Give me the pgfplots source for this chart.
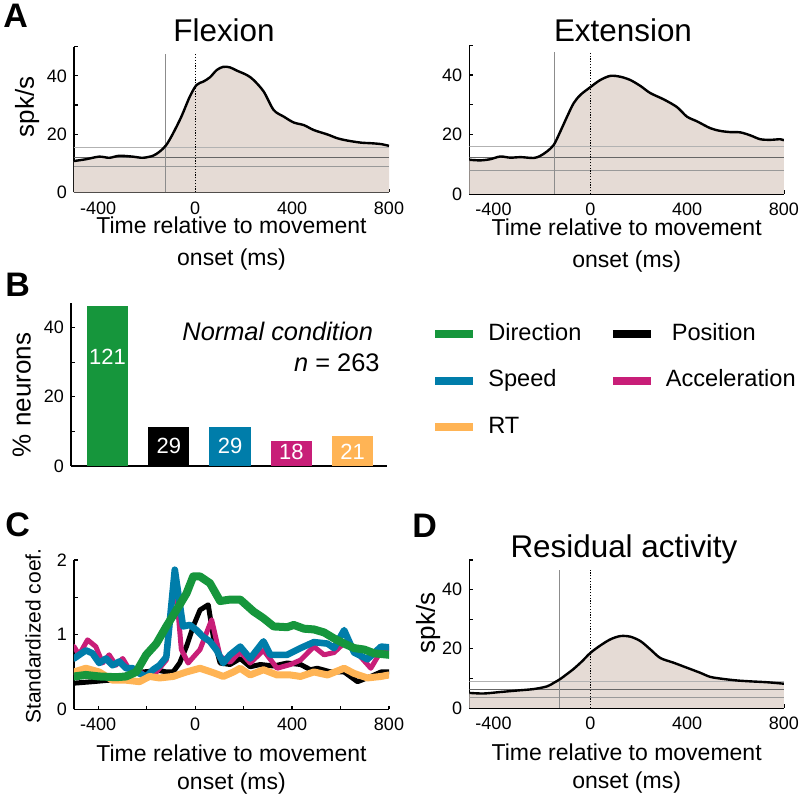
\documentclass[border=0pt]{standalone}
\usepackage{fontspec}
\setmainfont{Liberation Sans}
\usepackage{pgfplots}
\pgfplotsset{compat=1.18}
\usepackage{pgfplotstable}

\definecolor{dgreen}{RGB}{22,150,60}
\definecolor{dblue}{RGB}{0,125,170}
\definecolor{dmag}{RGB}{200,30,120}
\definecolor{dorange}{RGB}{255,180,85}
\definecolor{beige}{RGB}{229,219,213}

% firing rates (spk/s) vs time (ms)
\pgfplotstableread{
t r
-500 10.8
-451 11.4
-396 12.3
-354 11.9
-313 12.6
-257 12.3
-216 11.9
-174 12.6
-147 14.0
-119 16.3
-91 20.3
-57 26.0
-22 32.9
6 36.9
33 38.0
61 39.5
89 42.0
116 43.1
144 42.9
172 41.8
213 40.3
241 38.6
283 34.6
324 28.3
366 26.0
407 24.0
449 23.1
490 21.4
546 19.9
587 18.6
629 17.8
684 17.1
726 16.9
767 16.6
800 16.0
}\flexdata

\pgfplotstableread{
t r
-500 11.5
-454 11.3
-413 11.7
-372 12.6
-330 12.2
-289 12.4
-234 12.1
-207 12.8
-179 14.3
-151 16.5
-124 21.0
-96 26.0
-69 30.5
-41 33.3
0 35.9
41 38.3
83 39.7
124 39.4
165 38.3
207 36.3
248 33.9
303 31.8
358 29.2
399 26.0
441 24.4
496 22.1
537 21.2
578 20.8
620 20.7
661 19.7
702 18.4
744 18.2
785 18.4
800 18.0
}\extdata

\pgfplotstableread{
t r
-500 5.1
-441 4.9
-372 5.4
-303 5.9
-234 6.4
-179 7.3
-151 8.5
-124 9.8
-96 11.5
-69 13.2
-34 15.8
0 18.6
41 21.1
83 23.2
124 24.3
165 24.1
207 22.6
248 19.8
289 16.9
344 15.3
399 13.6
454 11.9
496 10.5
551 9.8
606 9.3
661 9.0
730 8.7
800 8.2
}\resdata

% standardized coefficients
\pgfplotstableread{
t v
-500 0.44
-451 0.46
-396 0.44
-326 0.43
-285 0.44
-243 0.50
-202 0.73
-160 0.88
-119 1.11
-77 1.33
-36 1.55
-8 1.78
20 1.78
61 1.69
103 1.45
144 1.47
186 1.47
241 1.31
282 1.22
324 1.11
380 1.10
407 1.13
449 1.08
490 1.07
532 1.03
573 0.95
615 0.88
656 0.82
698 0.80
739 0.75
800 0.73
}\dirdata

\pgfplotstableread{
t v
-500 0.68
-451 0.79
-424 0.75
-396 0.62
-368 0.68
-341 0.59
-313 0.64
-285 0.55
-257 0.55
-230 0.48
-202 0.44
-174 0.53
-147 0.59
-119 0.70
-84 1.87
-50 1.11
-22 1.13
6 1.06
33 0.97
61 0.91
89 0.79
116 0.62
144 0.73
186 0.84
227 0.68
282 0.91
310 0.73
380 0.73
435 0.82
490 0.90
546 0.88
573 0.82
615 1.06
656 0.76
711 0.67
767 0.84
800 0.83
}\spddata

\pgfplotstableread{
t v
-500 0.84
-479 0.73
-444 0.93
-410 0.84
-382 0.62
-355 0.73
-327 0.59
-299 0.68
-271 0.53
-230 0.51
-202 0.44
-160 0.50
-119 0.66
-84 1.82
-57 0.80
-29 0.62
20 0.80
68 1.20
103 0.71
144 0.63
186 0.77
227 0.62
282 0.79
338 0.55
393 0.60
435 0.66
490 0.84
532 0.73
573 0.76
629 0.93
670 0.75
725 0.55
767 0.78
800 0.82
}\accdata

\pgfplotstableread{
t v
-500 0.35
-424 0.37
-355 0.39
-285 0.46
-216 0.50
-147 0.52
-119 0.50
-91 0.50
-64 0.62
-36 0.84
-8 1.11
20 1.33
54 1.40
75 0.97
103 0.62
144 0.60
186 0.68
227 0.57
269 0.60
324 0.58
380 0.62
435 0.60
476 0.53
504 0.55
560 0.50
615 0.50
670 0.37
725 0.44
767 0.50
800 0.50
}\posdata

\pgfplotstableread{
t v
-500 0.50
-451 0.55
-396 0.50
-341 0.39
-285 0.39
-230 0.37
-188 0.44
-147 0.42
-91 0.44
-36 0.50
20 0.55
75 0.49
116 0.44
158 0.50
186 0.55
227 0.46
282 0.53
338 0.46
393 0.46
435 0.44
490 0.50
546 0.46
615 0.55
656 0.48
711 0.42
767 0.44
800 0.46
}\rtdata

\pgfplotsset{
  panel/.style={
    scale only axis,
    axis x line*=bottom, axis y line*=left,
    axis line style={-, line width=0.7pt},
    tick align=inside, major tick length=1.8pt,
    tick style={line width=0.6pt, black},
    tick label style={font=\fontsize{9}{10}\selectfont},
    xticklabel style={yshift=-1pt},
    /pgf/number format/assume math mode=true,
    ylabel style={font=\fontsize{13}{15}\selectfont, anchor=center},
  },
  timeaxis/.style={
    xmin=-500, xmax=800,
    xtick={-400,-200,...,800}, xticklabels={-400,,0,,400,,800},
    xlabel={Time relative to movement\\onset (ms)},
  },
  toprow/.style={
    xlabel style={align=center, font=\fontsize{11.5}{16}\selectfont, yshift=5.5pt},
  },
  bottomrow/.style={
    xlabel style={align=center, font=\fontsize{11.5}{14}\selectfont, yshift=0pt},
  },
  rateaxis/.style={
    ymin=0, ymax=50, ytick={0,10,...,50}, yticklabels={0,,20,,40,},
  },
}

\begin{document}
\begin{tikzpicture}
\path[use as bounding box] (0,0) rectangle (400pt,-398.5pt);

% ---------- A: Flexion
\begin{axis}[panel, timeaxis, rateaxis, toprow,
  at={(37pt,-96.25pt)}, anchor=south west,
  width=157.5pt, height=72.9pt,
  ylabel={spk/s}, ylabel style={at={(axis description cs:-0.149,0.586)}}]
  \addplot[fill=beige, draw=none] table[x=t, y=r]{\flexdata} \closedcycle;
  \draw[black!30, line width=0.5pt] (axis cs:-500,15.3) -- (axis cs:800,15.3);
  \draw[black!60, line width=0.5pt] (axis cs:-500,11.9) -- (axis cs:800,11.9);
  \draw[black!40, line width=0.5pt] (axis cs:-500,8.8) -- (axis cs:800,8.8);
  \draw[black!45, line width=0.5pt] (axis cs:-122,0) -- (axis cs:-122,47.5);
  \draw[black, line width=0.5pt, dash pattern=on 0.6pt off 0.8pt] (axis cs:0,0) -- (axis cs:0,47.5);
  \addplot[black, line width=1.2pt, smooth] table[x=t, y=r]{\flexdata};
\end{axis}

% ---------- A: Extension
\begin{axis}[panel, timeaxis, rateaxis, toprow,
  at={(234.65pt,-97pt)}, anchor=south west,
  width=157.35pt, height=74.4pt]
  \addplot[fill=beige, draw=none] table[x=t, y=r]{\extdata} \closedcycle;
  \draw[black!30, line width=0.5pt] (axis cs:-500,16.0) -- (axis cs:800,16.0);
  \draw[black!60, line width=0.5pt] (axis cs:-500,12.1) -- (axis cs:800,12.1);
  \draw[black!40, line width=0.5pt] (axis cs:-500,7.8) -- (axis cs:800,7.8);
  \draw[black!45, line width=0.5pt] (axis cs:-147,0) -- (axis cs:-147,47.8);
  \draw[black, line width=0.5pt, dash pattern=on 0.6pt off 0.8pt] (axis cs:0,0) -- (axis cs:0,47.8);
  \addplot[black, line width=1.2pt, smooth] table[x=t, y=r]{\extdata};
\end{axis}

% ---------- B: percentage of neurons
\begin{axis}[panel,
  at={(35.5pt,-233pt)}, anchor=south west,
  width=157.85pt, height=81.35pt,
  xmin=0.404, xmax=5.558, xtick=\empty,
  ymin=0, ymax=47, ytick={0,10,...,40}, yticklabels={0,,20,,40},
  ylabel={\% neurons}, ylabel style={at={(axis description cs:-0.156,0.436)}},
  legend columns=2, legend cell align=left,
  legend image code/.code={\path[draw=none, fill=none] (-10.2pt,0pt) -- (0pt,0pt);
    \draw[#1, line width=4pt] (0pt,0pt) -- (19pt,0pt);},
  legend style={at={(axis description cs:1.088,0.885)}, anchor=north west,
    draw=none, fill=none, inner sep=0pt, column sep=5.5pt, row sep=11.25pt,
    font=\fontsize{11.8}{14}\selectfont,
    nodes={inner sep=0pt, text height=9pt, text depth=3pt}},
  ]
  \addlegendimage{dgreen}\addlegendentry{Direction}
  \addlegendimage{black}\addlegendentry{\hspace{3pt}Position}
  \addlegendimage{dblue}\addlegendentry{Speed}
  \addlegendimage{dmag}\addlegendentry{Acceleration}
  \addlegendimage{dorange}\addlegendentry{RT}
  \addplot[ybar, bar width=0.67, bar shift=0pt, fill=dgreen, draw=none, forget plot] coordinates {(1,46.1)};
  \addplot[ybar, bar width=0.67, bar shift=0pt, fill=black, draw=none, forget plot] coordinates {(2,11.3)};
  \addplot[ybar, bar width=0.67, bar shift=0pt, fill=dblue, draw=none, forget plot] coordinates {(3,11.2)};
  \addplot[ybar, bar width=0.67, bar shift=0pt, fill=dmag, draw=none, forget plot] coordinates {(4,7.3)};
  \addplot[ybar, bar width=0.67, bar shift=0pt, fill=dorange, draw=none, forget plot] coordinates {(5,8.6)};
  \begin{scope}[every node/.style={text=white, font=\fontsize{11}{12}\selectfont}]
    \node at (axis cs:1,31.4) {121};
    \node at (axis cs:2,5.8) {29};
    \node at (axis cs:3,5.8) {29};
    \node at (axis cs:4,4.1) {18};
    \node at (axis cs:5,4.1) {21};
  \end{scope}
  \node[anchor=base east, font=\fontsize{12.7}{14}\selectfont\itshape] at (axis description cs:0.979,0.774) {Normal condition};
  \node[anchor=base east, font=\fontsize{12.7}{14}\selectfont] at (axis description cs:1.0,0.58) {\textit{n} = 263};
\end{axis}

% ---------- C: standardized coefficients
\begin{axis}[panel, timeaxis, bottomrow,
  at={(37pt,-354.65pt)}, anchor=south west,
  width=157.5pt, height=74.65pt,
  ymin=0, ymax=2, ytick={0,0.5,...,2}, yticklabels={0,,1,,2},
  ylabel={Standardized coef.},
  ylabel style={at={(axis description cs:-0.13,0.49)}, font=\fontsize{10.5}{12}\selectfont},
  every axis plot/.append style={line join=round, line cap=round}]
  \addplot[black, line width=2.5pt] table[x=t, y=v]{\posdata};
  \addplot[dmag, line width=2.5pt] table[x=t, y=v]{\accdata};
  \addplot[dblue, line width=3.3pt] table[x=t, y=v]{\spddata};
  \addplot[dorange, line width=3.5pt] table[x=t, y=v]{\rtdata};
  \addplot[dgreen, line width=4pt] table[x=t, y=v]{\dirdata};
\end{axis}

% ---------- D: residual activity
\begin{axis}[panel, timeaxis, rateaxis, bottomrow,
  at={(234.65pt,-354pt)}, anchor=south west,
  width=157.35pt, height=74pt,
  ylabel={spk/s}, ylabel style={at={(axis description cs:-0.131,0.575)}}]
  \addplot[fill=beige, draw=none] table[x=t, y=r]{\resdata} \closedcycle;
  \draw[black!30, line width=0.5pt] (axis cs:-500,9.0) -- (axis cs:800,9.0);
  \draw[black!60, line width=0.5pt] (axis cs:-500,6.4) -- (axis cs:800,6.4);
  \draw[black!40, line width=0.5pt] (axis cs:-500,3.7) -- (axis cs:800,3.7);
  \draw[black!45, line width=0.5pt] (axis cs:-127,0) -- (axis cs:-127,46.7);
  \draw[black, line width=0.5pt, dash pattern=on 0.6pt off 0.8pt] (axis cs:0,0) -- (axis cs:0,46.7);
  \addplot[black, line width=1.2pt, smooth] table[x=t, y=r]{\resdata};
\end{axis}

% titles and panel letters
\begin{scope}[every node/.style={anchor=base, font=\fontsize{15.7}{17}\selectfont}]
  \node at (112pt,-20.85pt) {Flexion};
  \node at (311.5pt,-20.85pt) {Extension};
  \node at (312pt,-278.85pt) {Residual activity};
\end{scope}
\begin{scope}[every node/.style={anchor=base west, inner sep=0pt, font=\fontsize{17}{17}\selectfont\bfseries}]
  \node at (1.5pt,-14pt) {A};
  \node at (2.5pt,-148.5pt) {B};
  \node at (2.5pt,-268.5pt) {C};
  \node at (206pt,-269pt) {D};
\end{scope}
\end{tikzpicture}
\end{document}
